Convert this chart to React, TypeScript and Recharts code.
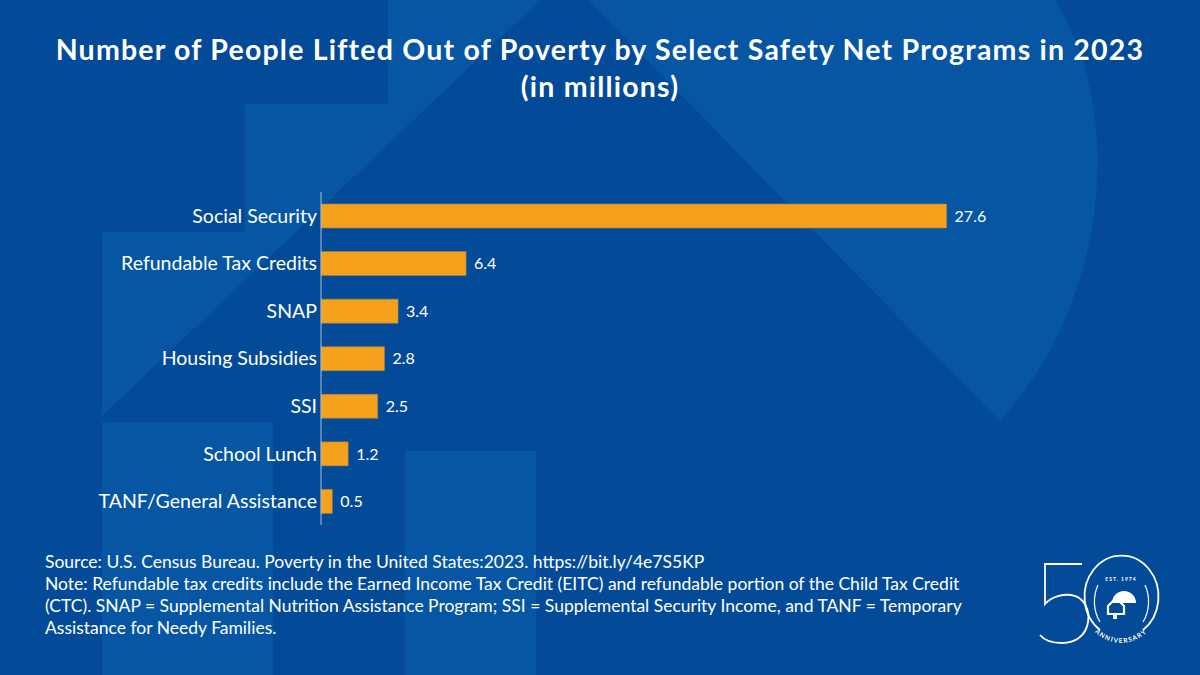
import React from 'react';
import { BarChart, Bar, XAxis, YAxis, LabelList } from 'recharts';

// values in millions
const programs = [
  'Social Security',
  'Refundable Tax Credits',
  'SNAP',
  'Housing Subsidies',
  'SSI',
  'School Lunch',
  'TANF/General Assistance',
];
const peopleLifted = [27.6, 6.4, 3.4, 2.8, 2.5, 1.2, 0.5];

const titleLines = [
  'Number of People Lifted Out of Poverty by Select Safety Net Programs in 2023',
  '(in millions)',
];
const noteLines = [
  'Source: U.S. Census Bureau. Poverty in the United States:2023. https://bit.ly/4e7S5KP',
  'Note: Refundable tax credits include the Earned Income Tax Credit (EITC) and refundable portion of the Child Tax Credit',
  '(CTC). SNAP = Supplemental Nutrition Assistance Program; SSI = Supplemental Security Income, and TANF = Temporary',
  'Assistance for Needy Families.',
];

const BASE = '#034b98';
const LIGHT = '#0656a4';
const ORANGE = '#f5a11c';
const FONT = 'Lato, "Open Sans", sans-serif';

const chartData = programs.map((name, i) => ({ name, value: peopleLifted[i] }));

const Backdrop = () => (
  <svg width={1200} height={675} style={{ position: 'absolute', left: 0, top: 0 }}>
    <rect x={0} y={0} width={1200} height={675} fill={BASE} />
    {/* stepped house shape */}
    <polygon
      points="388,0 540,0 102,416 102,232 245,232 245,104 388,104"
      fill={LIGHT}
    />
    <rect x={102} y={422} width={171} height={253} fill={LIGHT} />
    <rect x={405} y={451} width={131} height={224} fill={LIGHT} />
    {/* big wedge on the right */}
    <path d="M588 0 L1055 0 C1125 110, 1110 300, 1000 421 Z" fill={LIGHT} />
  </svg>
);

const Logo = () => (
  <svg width={1200} height={675} style={{ position: 'absolute', left: 0, top: 0 }}>
    <defs>
      <path id="annArc" d="M1084 612 A38 40 0 0 0 1158 612" />
    </defs>
    <path
      d="M1082 564 H1045 V604 C1052 596, 1064 594, 1071 595 C1085 597, 1090 611, 1088 622 C1086 636, 1075 643, 1062 643 C1052 643, 1044 640, 1040 635"
      fill="none"
      stroke="#fff"
      strokeWidth={1.8}
    />
    <path d="M1100 630 A37 41 0 1 1 1143 630" fill="none" stroke="#fff" strokeWidth={1.8} />
    <path d="M1100 622 A28 34 0 0 1 1098 585" fill="none" stroke="#fff" strokeWidth={1.2} />
    <path d="M1145 585 A28 34 0 0 1 1143 622" fill="none" stroke="#fff" strokeWidth={1.2} />
    <text x={1121} y={581} textAnchor="middle" fill="#fff" fontSize={5} fontWeight={700} fontFamily={FONT} letterSpacing={1}>
      EST. 1974
    </text>
    <path d="M1112 603 A12 12 0 0 1 1136 603 Z" fill="#fff" />
    <path d="M1108 606 L1116 598 L1124 606 V614 H1108 Z" fill="none" stroke="#fff" strokeWidth={2.2} />
    <rect x={1113} y={615} width={4} height={4} fill="#fff" />
    <text fill="#fff" fontSize={6.5} fontWeight={700} fontFamily={FONT} letterSpacing={1.2}>
      <textPath href="#annArc" startOffset="50%" textAnchor="middle">
        ANNIVERSARY
      </textPath>
    </text>
  </svg>
);

export default function App() {
  return (
    <div style={{ position: 'relative', width: 1200, height: 675, overflow: 'hidden', fontFamily: FONT }}>
      <style>{'body{margin:0}'}</style>
      <Backdrop />

      <div
        style={{
          position: 'absolute',
          left: 0,
          top: 31,
          width: 1200,
          textAlign: 'center',
          color: '#fff',
          fontWeight: 700,
          fontSize: 28.5,
          letterSpacing: 1.2,
          lineHeight: '37px',
        }}
      >
        {titleLines.map((t) => (
          <div key={t}>{t}</div>
        ))}
      </div>

      <div style={{ position: 'absolute', left: 0, top: 0 }}>
        <BarChart
          width={1200}
          height={675}
          data={chartData}
          layout="vertical"
          margin={{ top: 192, right: 199, bottom: 150, left: 0 }}
        >
          <XAxis type="number" domain={[0, 30]} hide />
          <YAxis
            type="category"
            dataKey="name"
            width={321}
            axisLine={{ stroke: '#a8bedb', strokeWidth: 1 }}
            tickLine={false}
            tickSize={0}
            tickMargin={4}
            tick={{ fill: '#fff', fontSize: 19.5, fontFamily: FONT }}
          />
          <Bar
            dataKey="value"
            fill={ORANGE}
            stroke="#a9803f"
            strokeWidth={0.6}
            barSize={24}
            isAnimationActive={false}
          >
            <LabelList
              dataKey="value"
              position="right"
              offset={8}
              fill="#fff"
              fontSize={16}
              fontFamily={FONT}
              formatter={(v: number) => v.toFixed(1)}
            />
          </Bar>
        </BarChart>
      </div>

      <div
        style={{
          position: 'absolute',
          left: 45,
          top: 551,
          color: '#fff',
          fontSize: 17.5,
          lineHeight: '22px',
          whiteSpace: 'nowrap',
        }}
      >
        {noteLines.map((t) => (
          <div key={t}>{t}</div>
        ))}
      </div>

      <Logo />
    </div>
  );
}
